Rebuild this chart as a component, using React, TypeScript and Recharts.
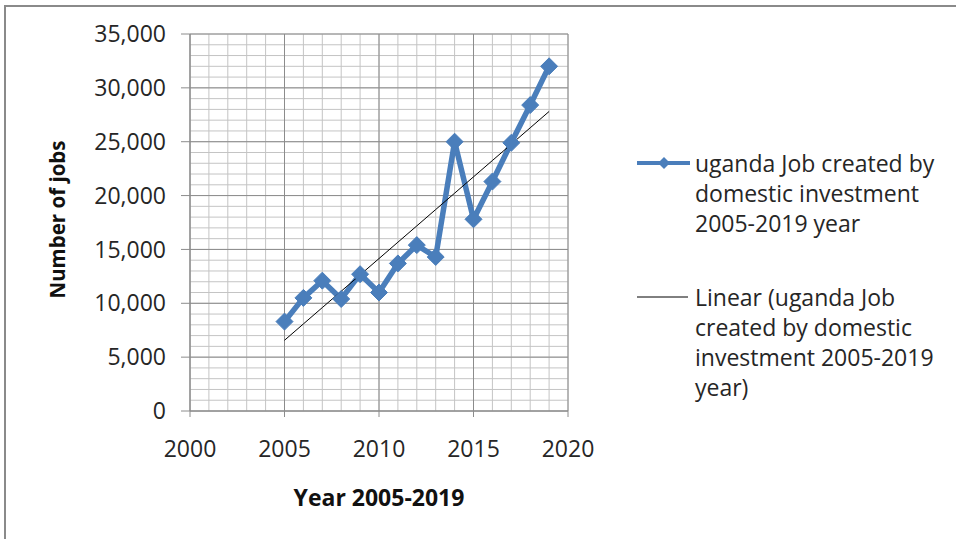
import {
  CartesianGrid,
  Line,
  LineChart,
  XAxis,
  YAxis,
} from "recharts";

const years = [2005, 2006, 2007, 2008, 2009, 2010, 2011, 2012, 2013, 2014, 2015, 2016, 2017, 2018, 2019];
const jobs = [8300, 10500, 12100, 10400, 12700, 11000, 13700, 15400, 14300, 25000, 17800, 21300, 24900, 28400, 32000];

const xTicks = [2000, 2005, 2010, 2015, 2020];
const yTicks = [0, 5000, 10000, 15000, 20000, 25000, 30000, 35000];

// minor gridlines: every year / every 1,000 jobs
const xMinor = Array.from({ length: 21 }, (_, i) => 2000 + i);
const yMinor = Array.from({ length: 36 }, (_, i) => i * 1000);

const seriesLines = ["uganda Job created by", "domestic investment", "2005-2019 year"];
const trendLines = ["Linear (uganda Job", "created by domestic", "investment 2005-2019", "year)"];

const blue = "#4a7ebb";
const textColor = "#262626";
const font = "'Open Sans', sans-serif";

// least-squares fit, same as the spreadsheet "Linear" trendline
function linearFit(xs: number[], ys: number[]) {
  const n = xs.length;
  const mx = xs.reduce((a, b) => a + b, 0) / n;
  const my = ys.reduce((a, b) => a + b, 0) / n;
  let sxy = 0;
  let sxx = 0;
  xs.forEach((x, i) => {
    sxy += (x - mx) * (ys[i] - my);
    sxx += (x - mx) * (x - mx);
  });
  const slope = sxy / sxx;
  return (x: number) => my + slope * (x - mx);
}

const trend = linearFit(years, jobs);
const chartData = years.map((year, i) => ({ year, jobs: jobs[i], trend: trend(year) }));

function Diamond(props: any) {
  const { cx, cy } = props;
  if (cx == null || cy == null) return null;
  const r = 8.5;
  return (
    <polygon
      points={`${cx},${cy - r} ${cx + r},${cy} ${cx},${cy + r} ${cx - r},${cy}`}
      fill={blue}
      stroke={blue}
      strokeWidth={1}
    />
  );
}

function LegendBox() {
  const lineStyle = { fontFamily: font, fontSize: 23, lineHeight: "30px", color: textColor };
  return (
    <div>
      <div style={{ display: "flex", alignItems: "flex-start" }}>
        <svg width={59} height={30} style={{ flex: "none" }}>
          <line x1={1} y1={15} x2={54} y2={15} stroke={blue} strokeWidth={4} />
          <polygon points="28,9 34,15 28,21 22,15" fill={blue} />
        </svg>
        <div style={lineStyle}>
          {seriesLines.map((t) => (
            <div key={t}>{t}</div>
          ))}
        </div>
      </div>
      <div style={{ display: "flex", alignItems: "flex-start", marginTop: 44 }}>
        <svg width={59} height={30} style={{ flex: "none" }}>
          <line x1={1} y1={15} x2={52} y2={15} stroke="#000" strokeWidth={1} />
        </svg>
        <div style={lineStyle}>
          {trendLines.map((t) => (
            <div key={t}>{t}</div>
          ))}
        </div>
      </div>
    </div>
  );
}

export default function App() {
  return (
    <div
      style={{
        position: "absolute",
        left: 0,
        top: 0,
        width: 956,
        height: 539,
        overflow: "hidden",
        background: "#fff",
      }}
    >
      <div
        style={{
          position: "absolute",
          left: 4,
          top: 5,
          width: 1000,
          height: 600,
          borderTop: "2px solid #8a8a8a",
          borderLeft: "2px solid #8a8a8a",
        }}
      />
      <div style={{ position: "absolute", left: 0, top: 0 }}>
        <LineChart
          width={956}
          height={539}
          data={chartData}
          margin={{ top: 34, right: 388, bottom: 0, left: 0 }}
        >
          <CartesianGrid
            stroke="#c4c4c4"
            horizontalValues={yMinor}
            verticalValues={xMinor}
          />
          <CartesianGrid
            stroke="#8c8c8c"
            horizontalValues={yTicks}
            verticalValues={xTicks}
          />
          <XAxis
            dataKey="year"
            type="number"
            domain={[2000, 2020]}
            ticks={xTicks}
            interval={0}
            height={128}
            stroke="#8c8c8c"
            tickSize={6}
            tickMargin={24}
            tick={{ fill: textColor, fontSize: 23, fontFamily: font }}
            label={{
              content: (p: any) => {
                const vb = p.viewBox;
                return (
                  <text
                    x={vb.x + vb.width / 2}
                    y={vb.y + 86}
                    textAnchor="middle"
                    dominantBaseline="central"
                    fontFamily={font}
                    fontWeight={700}
                    fontSize={23}
                    fill="#111"
                  >
                    Year 2005-2019
                  </text>
                );
              },
            }}
          />
          <YAxis
            type="number"
            domain={[0, 35000]}
            ticks={yTicks}
            interval={0}
            width={190}
            stroke="#8c8c8c"
            tickSize={9}
            tickMargin={15}
            tickFormatter={(v: number) => v.toLocaleString("en-US")}
            tick={{ fill: textColor, fontSize: 23, fontFamily: font }}
            label={{
              content: (p: any) => {
                const vb = p.viewBox;
                const x = vb.x + 57;
                const y = vb.y + vb.height / 2 - 3;
                return (
                  <text
                    x={x}
                    y={y}
                    transform={`rotate(-90 ${x} ${y})`}
                    textAnchor="middle"
                    dominantBaseline="central"
                    fontFamily={font}
                    fontWeight={700}
                    fontSize={20.5}
                    fill="#111"
                  >
                    Number of jobs
                  </text>
                );
              },
            }}
          />
          <Line
            dataKey="jobs"
            name={seriesLines.join(" ")}
            stroke={blue}
            strokeWidth={5.5}
            dot={<Diamond />}
            activeDot={false}
            isAnimationActive={false}
          />
          <Line
            dataKey="trend"
            name={trendLines.join(" ")}
            stroke="#000"
            strokeWidth={1}
            dot={false}
            activeDot={false}
            isAnimationActive={false}
          />
        </LineChart>
      </div>
      <div style={{ position: "absolute", left: 636, top: 148 }}>
        <LegendBox />
      </div>
    </div>
  );
}
